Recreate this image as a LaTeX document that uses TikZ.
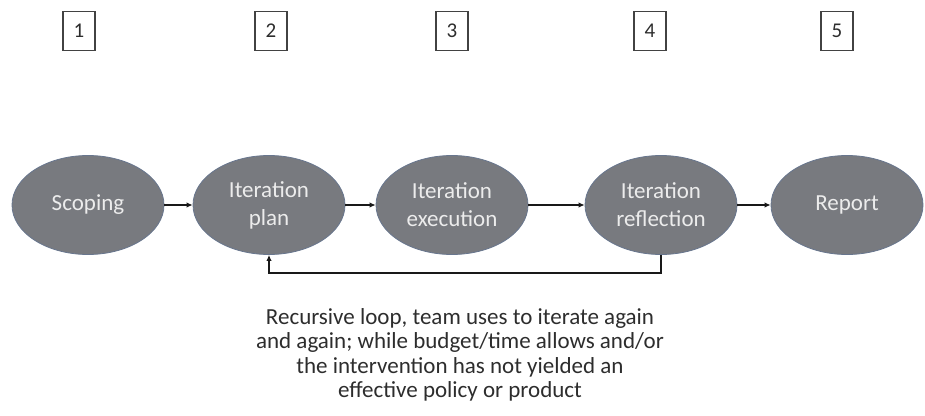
\documentclass[tikz,border=0pt]{standalone}
\usepackage{fontspec}
\setmainfont{Carlito}
\usetikzlibrary{arrows.meta,shapes.geometric}
\definecolor{ellfill}{RGB}{120,122,127}
\definecolor{ellborder}{RGB}{104,118,142}
\definecolor{elltext}{RGB}{236,236,236}
\definecolor{darktext}{RGB}{45,45,45}
\tikzset{
  numbox/.style={draw=darktext!90, line width=1.1pt, minimum width=32pt, minimum height=39pt, inner sep=0pt, font=\fontsize{21}{23}\selectfont, text=darktext},
  stage/.style={ellipse, fill=ellfill, draw=ellborder, line width=0.8pt, minimum width=152pt, minimum height=99pt, inner sep=0pt, align=center, text=elltext, font=\fontsize{23}{28}\selectfont},
  flow/.style={line width=1.7pt, draw=black!90, -{Latex[length=6pt,width=5.5pt]}},
}
\begin{document}
\begin{tikzpicture}[x=1pt,y=-1pt]
\useasboundingbox (0,0) rectangle (925,415);
\node[numbox] (n1) at (79,31) {1};
\node[numbox] (n2) at (271,31) {2};
\node[numbox] (n3) at (452,31) {3};
\node[numbox] (n4) at (650,31) {4};
\node[numbox] (n5) at (837,31) {5};
\node[stage] (s1) at (88,205) {Scoping};
\node[stage] (s2) at (269,205) {Iteration\\plan};
\node[stage] (s3) at (452,205) {Iteration\\execution};
\node[stage] (s4) at (661,205) {Iteration\\reflection};
\node[stage] (s5) at (847,205) {Report};
\draw[flow] (s1) -- (s2);
\draw[flow] (s2) -- (s3);
\draw[flow] (s3) -- (s4);
\draw[flow] (s4) -- (s5);
\coordinate (c1) at (661,273);
\coordinate (c2) at (269,273);
\draw[flow] (s4.south) -- (c1) -- (c2) -- (s2.south);
\node[align=center, text=darktext, font=\fontsize{23}{24.5}\selectfont] (note) at (460,355) {Recursive loop, team uses to iterate again\\and again; while budget/time allows and/or\\the intervention has not yielded an\\effective policy or product};
\end{tikzpicture}
\end{document}
